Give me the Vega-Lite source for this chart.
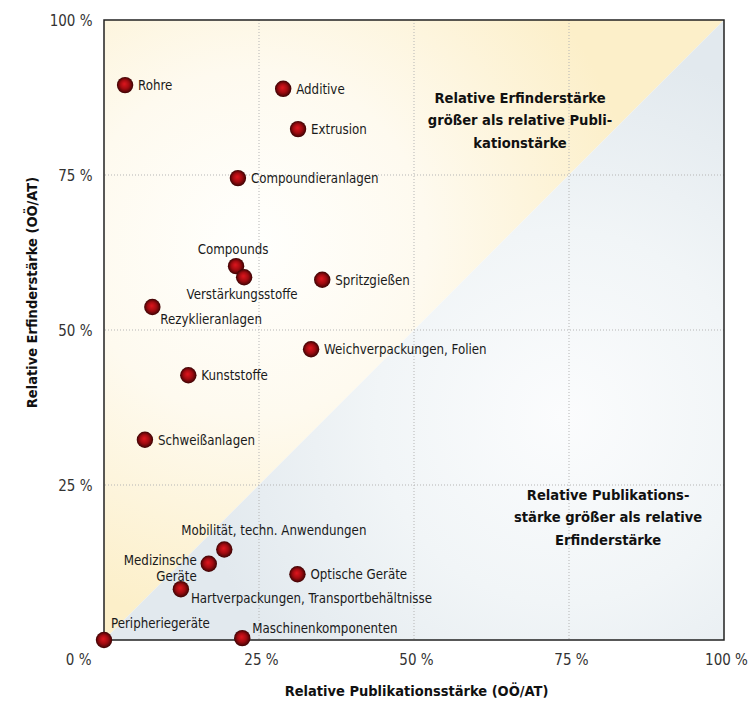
{
  "$schema": "https://vega.github.io/schema/vega-lite/v6.json",
  "width": 620,
  "height": 620,
  "autosize": {"type": "none"},
  "padding": {"left": 104, "top": 20, "right": 24, "bottom": 61},
  "background": "#ffffff",
  "config": {
    "view": {"stroke": null},
    "font": "DejaVu Sans Condensed, sans-serif",
    "text": {"font": "DejaVu Sans Condensed, sans-serif", "fontSize": 13.2, "color": "#1a1a1a"}
  },
  "datasets": {
    "bg": [{"x": 0, "d": 0}, {"x": 100, "d": 100}],
    "grid": [{"v": 25}, {"v": 50}, {"v": 75}],
    "points": [
      {"name": "Rohre", "pub": 3.4, "erf": 89.5},
      {"name": "Additive", "pub": 28.9, "erf": 88.9},
      {"name": "Extrusion", "pub": 31.3, "erf": 82.4},
      {"name": "Compoundieranlagen", "pub": 21.6, "erf": 74.5},
      {"name": "Compounds", "pub": 21.3, "erf": 60.3},
      {"name": "Verstärkungsstoffe", "pub": 22.6, "erf": 58.5},
      {"name": "Spritzgießen", "pub": 35.2, "erf": 58.1},
      {"name": "Rezyklieranlagen", "pub": 7.8, "erf": 53.7},
      {"name": "Weichverpackungen, Folien", "pub": 33.4, "erf": 46.9},
      {"name": "Kunststoffe", "pub": 13.6, "erf": 42.7},
      {"name": "Schweißanlagen", "pub": 6.6, "erf": 32.3},
      {"name": "Mobilität, techn. Anwendungen", "pub": 19.4, "erf": 14.6},
      {"name": "Medizinsche Geräte", "pub": 16.9, "erf": 12.3},
      {"name": "Optische Geräte", "pub": 31.2, "erf": 10.6},
      {"name": "Hartverpackungen, Transportbehältnisse", "pub": 12.4, "erf": 8.2},
      {"name": "Peripheriegeräte", "pub": 0, "erf": 0},
      {"name": "Maschinenkomponenten", "pub": 22.3, "erf": 0.3}
    ],
    "notes": [
      {"x": 67.1, "y": 87.3, "text": "Relative Erfinderstärke\ngrößer als relative Publi-\nkationstärke"},
      {"x": 81.3, "y": 23.3, "text": "Relative Publikations-\nstärke größer als relative\nErfinderstärke"}
    ]
  },
  "layer": [
    {
      "data": {"name": "bg"},
      "mark": {
        "type": "area",
        "color": {
          "gradient": "radial",
          "x1": 0.24, "y1": 0.36, "r1": 0,
          "x2": 0.24, "y2": 0.36, "r2": 0.62,
          "stops": [
            {"offset": 0, "color": "#fffffd"},
            {"offset": 0.45, "color": "#fefaef"},
            {"offset": 1, "color": "#fcefc9"}
          ]
        }
      },
      "encoding": {
        "x": {
          "field": "x", "type": "quantitative",
          "scale": {"domain": [0, 100], "nice": false},
          "axis": {
            "values": [0, 25, 50, 75, 100],
            "labelExpr": "datum.value + ' %'",
            "grid": false, "ticks": false, "domain": false,
            "labelFontSize": 15, "labelColor": "#333333",
            "labelFont": "DejaVu Sans Condensed, sans-serif",
            "labelPadding": 12, "labelFlush": false, "labelOverlap": false,
            "labelAlign": {"condition": {"test": "datum.value == 0", "value": "right"}, "value": "center"},
            "labelOffset": {"condition": {"test": "datum.value == 0", "value": -13}, "value": 2},
            "title": "Relative Publikationsstärke (OÖ/AT)",
            "titleFont": "DejaVu Sans Condensed, sans-serif",
            "titleFontSize": 14.5, "titleFontWeight": "bold", "titleColor": "#111111",
            "titleY": 51, "titleBaseline": "middle", "titleX": 312
          }
        },
        "y": {
          "field": "d", "type": "quantitative",
          "scale": {"domain": [0, 100], "nice": false},
          "axis": {
            "values": [25, 50, 75, 100],
            "labelExpr": "datum.value + ' %'",
            "grid": false, "ticks": false, "domain": false,
            "labelFontSize": 15, "labelColor": "#333333",
            "labelFont": "DejaVu Sans Condensed, sans-serif",
            "labelPadding": 12, "labelFlush": false, "labelOverlap": false,
            "title": "Relative Erfinderstärke (OÖ/AT)",
            "titleFont": "DejaVu Sans Condensed, sans-serif",
            "titleFontSize": 14.5, "titleFontWeight": "bold", "titleColor": "#111111",
            "titleX": -72, "titleY": 272, "titleBaseline": "middle", "titleAngle": 270
          }
        },
        "y2": {"datum": 100}
      }
    },
    {
      "data": {"name": "bg"},
      "mark": {
        "type": "area",
        "color": {
          "gradient": "radial",
          "x1": 0.74, "y1": 0.64, "r1": 0,
          "x2": 0.74, "y2": 0.64, "r2": 0.6,
          "stops": [
            {"offset": 0, "color": "#fbfcfd"},
            {"offset": 0.5, "color": "#f1f5f7"},
            {"offset": 1, "color": "#e2e9ee"}
          ]
        }
      },
      "encoding": {
        "x": {"field": "x", "type": "quantitative"},
        "y": {"field": "d", "type": "quantitative"},
        "y2": {"datum": 0}
      }
    },
    {
      "data": {"name": "grid"},
      "mark": {"type": "rule", "color": "#b5b5b5", "strokeWidth": 1, "strokeDash": [1, 2]},
      "encoding": {"x": {"field": "v", "type": "quantitative"}}
    },
    {
      "data": {"name": "grid"},
      "mark": {"type": "rule", "color": "#b5b5b5", "strokeWidth": 1, "strokeDash": [1, 2]},
      "encoding": {"y": {"field": "v", "type": "quantitative"}}
    },
    {
      "data": {"values": [{"a": 0, "b": 100}]},
      "mark": {"type": "rect", "fill": null, "stroke": "#222222", "strokeWidth": 1.5},
      "encoding": {
        "x": {"field": "a", "type": "quantitative"}, "x2": {"field": "b"},
        "y": {"field": "a", "type": "quantitative"}, "y2": {"field": "b"}
      }
    },
    {
      "data": {"name": "points"},
      "mark": {
        "type": "point", "shape": "circle", "filled": true, "size": 270, "opacity": 1,
        "color": {
          "gradient": "radial",
          "x1": 0.45, "y1": 0.42, "r1": 0,
          "x2": 0.5, "y2": 0.5, "r2": 0.5,
          "stops": [
            {"offset": 0, "color": "#e0161e"},
            {"offset": 0.55, "color": "#a00b10"},
            {"offset": 1, "color": "#3a0303"}
          ]
        }
      },
      "encoding": {
        "x": {"field": "pub", "type": "quantitative"},
        "y": {"field": "erf", "type": "quantitative"}
      }
    },
    {
      "data": {"name": "points"},
      "transform": [{"filter": {"field": "name", "oneOf": ["Rohre", "Additive", "Extrusion", "Compoundieranlagen", "Spritzgießen", "Weichverpackungen, Folien", "Kunststoffe", "Schweißanlagen", "Optische Geräte"]}}],
      "mark": {"type": "text", "align": "left", "baseline": "middle", "dx": 13, "dy": 1},
      "encoding": {
        "x": {"field": "pub", "type": "quantitative"},
        "y": {"field": "erf", "type": "quantitative"},
        "text": {"field": "name"}
      }
    },
    {
      "data": {"name": "points"},
      "transform": [{"filter": {"field": "name", "equal": "Compounds"}}],
      "mark": {"type": "text", "align": "center", "baseline": "middle", "dx": -3, "dy": -16},
      "encoding": {
        "x": {"field": "pub", "type": "quantitative"},
        "y": {"field": "erf", "type": "quantitative"},
        "text": {"field": "name"}
      }
    },
    {
      "data": {"name": "points"},
      "transform": [{"filter": {"field": "name", "equal": "Verstärkungsstoffe"}}],
      "mark": {"type": "text", "align": "center", "baseline": "middle", "dx": -2, "dy": 18},
      "encoding": {
        "x": {"field": "pub", "type": "quantitative"},
        "y": {"field": "erf", "type": "quantitative"},
        "text": {"field": "name"}
      }
    },
    {
      "data": {"name": "points"},
      "transform": [{"filter": {"field": "name", "equal": "Rezyklieranlagen"}}],
      "mark": {"type": "text", "align": "left", "baseline": "middle", "dx": 8, "dy": 13},
      "encoding": {
        "x": {"field": "pub", "type": "quantitative"},
        "y": {"field": "erf", "type": "quantitative"},
        "text": {"field": "name"}
      }
    },
    {
      "data": {"name": "points"},
      "transform": [{"filter": {"field": "name", "equal": "Mobilität, techn. Anwendungen"}}],
      "mark": {"type": "text", "align": "left", "baseline": "middle", "dx": -43, "dy": -18},
      "encoding": {
        "x": {"field": "pub", "type": "quantitative"},
        "y": {"field": "erf", "type": "quantitative"},
        "text": {"field": "name"}
      }
    },
    {
      "data": {"name": "points"},
      "transform": [{"filter": {"field": "name", "equal": "Medizinsche Geräte"}}],
      "mark": {"type": "text", "align": "right", "baseline": "middle", "dx": -12, "dy": -3, "lineBreak": " ", "lineHeight": 16},
      "encoding": {
        "x": {"field": "pub", "type": "quantitative"},
        "y": {"field": "erf", "type": "quantitative"},
        "text": {"field": "name"}
      }
    },
    {
      "data": {"name": "points"},
      "transform": [{"filter": {"field": "name", "equal": "Hartverpackungen, Transportbehältnisse"}}],
      "mark": {"type": "text", "align": "left", "baseline": "middle", "dx": 10, "dy": 10},
      "encoding": {
        "x": {"field": "pub", "type": "quantitative"},
        "y": {"field": "erf", "type": "quantitative"},
        "text": {"field": "name"}
      }
    },
    {
      "data": {"name": "points"},
      "transform": [{"filter": {"field": "name", "equal": "Peripheriegeräte"}}],
      "mark": {"type": "text", "align": "left", "baseline": "middle", "dx": 7, "dy": -16},
      "encoding": {
        "x": {"field": "pub", "type": "quantitative"},
        "y": {"field": "erf", "type": "quantitative"},
        "text": {"field": "name"}
      }
    },
    {
      "data": {"name": "points"},
      "transform": [{"filter": {"field": "name", "equal": "Maschinenkomponenten"}}],
      "mark": {"type": "text", "align": "left", "baseline": "middle", "dx": 10, "dy": -9},
      "encoding": {
        "x": {"field": "pub", "type": "quantitative"},
        "y": {"field": "erf", "type": "quantitative"},
        "text": {"field": "name"}
      }
    },
    {
      "data": {"name": "notes"},
      "mark": {"type": "text", "align": "center", "baseline": "middle", "fontWeight": "bold", "fontSize": 14.6, "lineBreak": "\n", "lineHeight": 22.5, "color": "#111111"},
      "encoding": {
        "x": {"field": "x", "type": "quantitative"},
        "y": {"field": "y", "type": "quantitative"},
        "text": {"field": "text"}
      }
    }
  ]
}
